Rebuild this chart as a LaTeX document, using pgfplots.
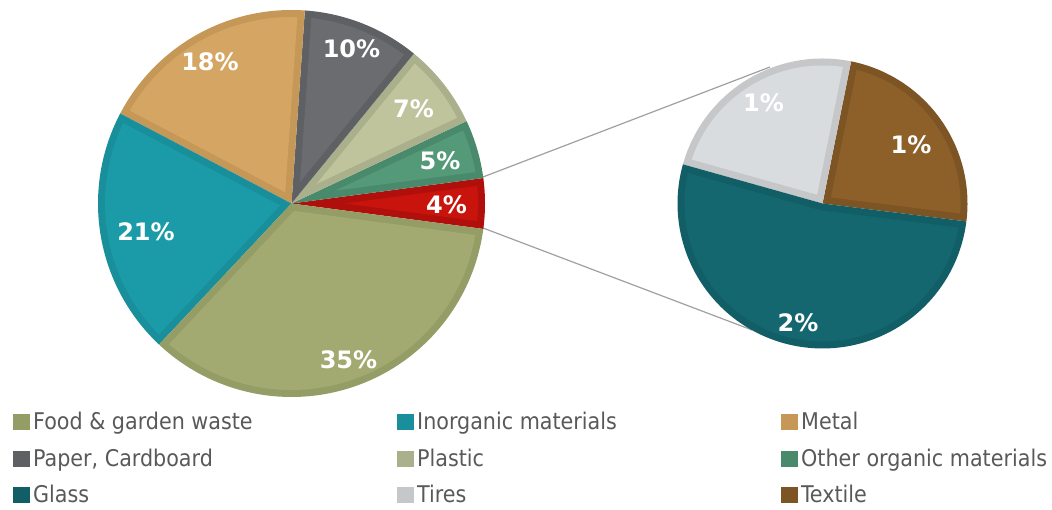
\documentclass[border=0pt]{standalone}
\usepackage{fontspec}
\setmainfont{DejaVu Sans Condensed}
\newfontfamily\lblfont{DejaVu Sans}
\usepackage{pgfplots}
\pgfplotsset{compat=1.18}

\definecolor{foodF}{HTML}{A2AA72}\definecolor{foodB}{HTML}{959D66}
\definecolor{inorgF}{HTML}{1A9BA7}\definecolor{inorgB}{HTML}{188F9A}
\definecolor{metalF}{HTML}{D4A563}\definecolor{metalB}{HTML}{C59858}
\definecolor{paperF}{HTML}{6B6C70}\definecolor{paperB}{HTML}{5F6064}
\definecolor{plastF}{HTML}{BFC49D}\definecolor{plastB}{HTML}{ABB08C}
\definecolor{oorgF}{HTML}{549A79}\definecolor{oorgB}{HTML}{4A8A6C}
\definecolor{otherF}{HTML}{C8140C}\definecolor{otherB}{HTML}{B00F0B}
\definecolor{glassF}{HTML}{14666F}\definecolor{glassB}{HTML}{115E66}
\definecolor{tiresF}{HTML}{D9DCDF}\definecolor{tiresB}{HTML}{C6C7C9}
\definecolor{textF}{HTML}{8C6028}\definecolor{textB}{HTML}{7D5423}
\definecolor{legtext}{HTML}{595959}
\definecolor{linegray}{HTML}{A0A0A0}

\def\bw{7}
% #1 cx, #2 cy, #3 r, #4 start angle, #5 end angle, #6 fill, #7 border
\newcommand\pieslice[7]{%
  \addplot[forget plot, fill=#7, draw=none, domain=(#4):(#5), samples=90, variable=\t]
    ({#1+#3*cos(\t)},{#2+#3*sin(\t)}) -- (axis cs:#1,#2) -- cycle;
  \addplot[forget plot, fill=#6, draw=none,
    domain=(#4)+asin(\bw/(#3-\bw)):(#5)-asin(\bw/(#3-\bw)), samples=90, variable=\t]
    ({#1+(#3-\bw)*cos(\t)},{#2+(#3-\bw)*sin(\t)})
    -- (axis cs:{#1+\bw/sin(((#5)-(#4))/2)*cos(((#4)+(#5))/2)},{#2+\bw/sin(((#5)-(#4))/2)*sin(((#4)+(#5))/2)}) -- cycle;
}
\newcommand\lbl[3]{\node[text=white, font=\lblfont\bfseries\fontsize{24bp}{28bp}\selectfont] at (axis cs:#1,#2) {#3};}
\newcommand\legentry[4]{%
  \fill[#3] (axis cs:#1,{510-#2}) rectangle (axis cs:{#1+17},{510-#2+16});
  \node[anchor=base west, inner sep=0pt, text=legtext, font=\fontsize{23bp}{27bp}\selectfont] at (axis cs:{#1+20},{510-#2}) {#4};
}

\begin{document}
\begin{tikzpicture}
\begin{axis}[
  x=1bp, y=1bp, xmin=0, xmax=1052, ymin=0, ymax=510,
  hide axis, clip=false,
]
% full picture area (keeps the page at 1052 x 510)
\path[draw=none] (axis cs:0,0) rectangle (axis cs:1052,510);

% connector lines
\addplot[forget plot, color=linegray, line width=1.2bp] coordinates {(483,333) (770,443)};
\addplot[forget plot, color=linegray, line width=1.2bp] coordinates {(483,282) (752,180)};

% main pie: values (%) Other 4.2, Other organic 4.9, Plastic 7.1, Paper 9.8, Metal 18.4, Inorganic 20.7, Food 34.9
\pieslice{291.5}{306.5}{193.5}{-7.56}{-7.56+3.6*4.2}{otherF}{otherB}
\pieslice{291.5}{306.5}{193.5}{-7.56+3.6*4.2}{-7.56+3.6*9.1}{oorgF}{oorgB}
\pieslice{291.5}{306.5}{193.5}{-7.56+3.6*9.1}{-7.56+3.6*16.2}{plastF}{plastB}
\pieslice{291.5}{306.5}{193.5}{-7.56+3.6*16.2}{-7.56+3.6*26.0}{paperF}{paperB}
\pieslice{291.5}{306.5}{193.5}{-7.56+3.6*26.0}{-7.56+3.6*44.4}{metalF}{metalB}
\pieslice{291.5}{306.5}{193.5}{-7.56+3.6*44.4}{-7.56+3.6*65.1}{inorgF}{inorgB}
\pieslice{291.5}{306.5}{193.5}{-7.56+3.6*65.1}{-7.56+3.6*100}{foodF}{foodB}

% second pie: Textile 1.0, Tires 1.0, Glass 2.2 (of 4.2)
\pieslice{822.5}{306.5}{145}{-7.1}{-7.1+360/4.2*1.0}{textF}{textB}
\pieslice{822.5}{306.5}{145}{-7.1+360/4.2*1.0}{-7.1+360/4.2*2.0}{tiresF}{tiresB}
\pieslice{822.5}{306.5}{145}{-7.1+360/4.2*2.0}{-7.1+360/4.2*4.2}{glassF}{glassB}

% labels
\lbl{210}{448.5}{18\%}
\lbl{351.5}{461}{10\%}
\lbl{413.5}{401.5}{7\%}
\lbl{440}{349}{5\%}
\lbl{446.5}{305.5}{4\%}
\lbl{146}{278.5}{21\%}
\lbl{348.5}{150}{35\%}
\lbl{763.5}{407}{1\%}
\lbl{911}{365}{1\%}
\lbl{798}{187.5}{2\%}

% legend
\legentry{13}{430}{foodB}{Food \& garden waste}
\legentry{397}{430}{inorgB}{Inorganic materials}
\legentry{781}{430}{metalB}{Metal}
\legentry{13}{467}{paperB}{Paper, Cardboard}
\legentry{397}{467}{plastB}{Plastic}
\legentry{781}{467}{oorgB}{Other organic materials}
\legentry{13}{503}{glassB}{Glass}
\legentry{397}{503}{tiresB}{Tires}
\legentry{781}{503}{textB}{Textile}
\end{axis}
\end{tikzpicture}
\end{document}
